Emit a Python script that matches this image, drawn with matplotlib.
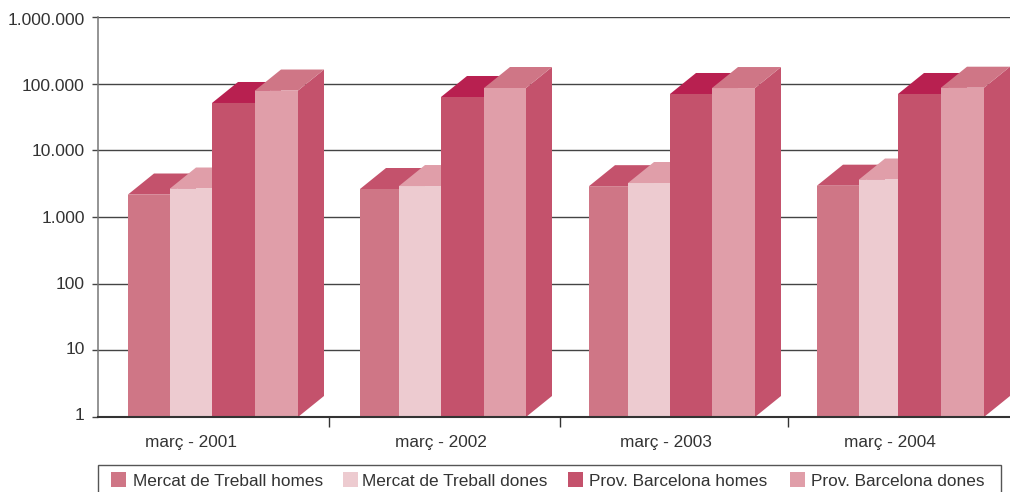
import matplotlib
matplotlib.use("Agg")
import matplotlib.pyplot as plt
from matplotlib.patches import Rectangle
from matplotlib.transforms import ScaledTranslation

plt.rcParams['font.family'] = ['Liberation Sans', 'DejaVu Sans']

years = ["març - 2001", "març - 2002", "març - 2003", "març - 2004"]
series_names = ["Mercat de Treball homes", "Mercat de Treball dones",
                "Prov. Barcelona homes", "Prov. Barcelona dones"]
mt_homes = [2175, 2630, 2900, 2950]
mt_dones = [2675, 2915, 3235, 3650]
bcn_homes = [51300, 63100, 70000, 70000]
bcn_dones = [78900, 86100, 86000, 87000]
y_ticks = [1, 10, 100, 1000, 10000, 100000, 1000000]
y_tick_labels = ["1", "10", "100", "1.000", "10.000", "100.000", "1.000.000"]

front_cols = ["#CF7686", "#EDCBD0", "#C4526C", "#E09EA9"]
top_cols = ["#C4526C", "#E09EA9", "#B82050", "#CF7686"]
side_col = "#C4526C"
text_col = "#333333"

W, H = 1010, 492
group_edges = [[128, 170, 212, 255, 298],
               [360, 399, 441, 484, 526],
               [589, 628, 670, 712, 755],
               [817, 859, 898, 941, 984]]
separators = [329, 560, 788]
depth_x = 26
depth_y = 10 ** (21 / (400 / 6))  # 21 px up on the log axis

fig = plt.figure(figsize=(W / 100, H / 100), dpi=100)
ax = fig.add_axes([98 / W, (H - 417) / H, (W - 98) / W, 400 / H])
ax.set_yscale("log")
ax.set_xlim(98, W)
ax.set_ylim(1, 1000000)

all_vals = [mt_homes, mt_dones, bcn_homes, bcn_dones]
for g, edges in enumerate(group_edges):
    for s in range(4):
        v = all_vals[s][g]
        x0, x1 = edges[s], edges[s + 1]
        ax.fill([x1, x1 + depth_x, x1 + depth_x, x1], [1, depth_y, v * depth_y, v],
                color=side_col, lw=0, zorder=3)
        ax.fill([x0, x1, x1 + depth_x, x0 + depth_x], [v, v, v * depth_y, v * depth_y],
                color=top_cols[s], lw=0, zorder=3)
        ax.bar(x0, v - 1, width=x1 - x0, bottom=1, align="edge", color=front_cols[s], lw=0,
               zorder=3, snap=False)

ax.spines["top"].set_visible(False)
ax.spines["right"].set_visible(False)
ax.spines["left"].set_color("#777777")
ax.spines["left"].set_linewidth(1.1)
ax.spines["bottom"].set_color("#333333")
ax.spines["bottom"].set_linewidth(1.5)
ax.spines["bottom"].set_zorder(4)

ax.set_yticks(y_ticks)
ax.set_yticklabels(y_tick_labels, fontsize=12.5, color=text_col)
ax.minorticks_off()
ax.yaxis.grid(True, color="#444444", lw=1, zorder=1)
ax.set_axisbelow(True)
ax.tick_params(axis="y", length=4, width=1, color="#444444", pad=5.5)

# the labels in the original sit a little off their gridlines (px, up is positive)
label_shift = [3, 2, 1, 0, 0, -1, -2]
for lab, dy in zip(ax.get_yticklabels(), label_shift):
    lab.set_transform(lab.get_transform() + ScaledTranslation(0, dy / 100, fig.dpi_scale_trans))

centers = [191, 441, 666, 890]
ax.set_xticks(separators)
ax.set_xticklabels([])
ax.tick_params(axis="x", which="major", length=7, width=1, color="#333333")
ax.set_xticks(centers, minor=True)
ax.set_xticklabels(years, minor=True, fontsize=12.4, color=text_col)
ax.tick_params(axis="x", which="minor", length=0, pad=13)

# legend box runs off the bottom of the picture
fig.add_artist(Rectangle((98 / W, -2 / H), (1001 - 98) / W, (H - 465 + 2) / H, transform=fig.transFigure,
                         fc="white", ec="#555555", lw=1, clip_on=False))
swatch_x = [111, 343, 568, 790]
label_x = [133, 362, 589, 811]
for i in range(4):
    fig.add_artist(Rectangle((swatch_x[i] / W, (H - 487) / H), 15 / W, 15 / H, transform=fig.transFigure,
                             fc=front_cols[i], ec="none"))
    fig.text(label_x[i] / W, (H - 481.5) / H, series_names[i], fontsize=12.4, color=text_col,
             ha="left", va="center")

fig.savefig("out.png", dpi=100)
